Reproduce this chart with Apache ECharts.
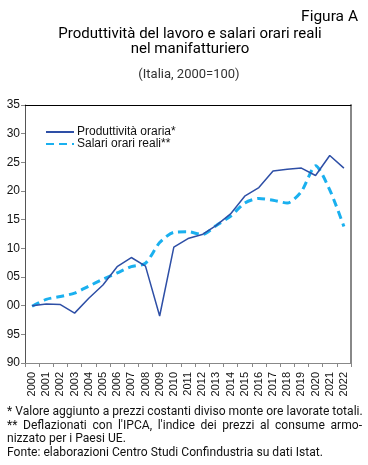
<!DOCTYPE html>
<html><head><meta charset="utf-8">
<script src="https://cdn.jsdelivr.net/npm/echarts@6/dist/echarts.min.js"></script>
<style>html,body{margin:0;padding:0;background:#fff}#c{width:368px;height:465px}</style>
</head><body><div id="c"></div>
<script>
const years = ['2000','2001','2002','2003','2004','2005','2006','2007','2008','2009','2010','2011','2012','2013','2014','2015','2016','2017','2018','2019','2020','2021','2022'];
const produttivita = [100, 100.3, 100.2, 98.7, 101.3, 103.6, 106.8, 108.4, 106.9, 98.2, 110.2, 111.7, 112.4, 114.0, 116.0, 119.1, 120.6, 123.5, 123.8, 124.0, 122.7, 126.2, 124.0];
const salari = [99.9, 101.1, 101.6, 102.2, 103.4, 104.6, 105.7, 106.8, 107.4, 111.0, 112.8, 112.9, 112.4, 114.0, 115.6, 117.9, 118.7, 118.4, 117.9, 119.9, 124.4, 120.2, 113.8];
const seriesNames = ['Produttività oraria*', 'Salari orari reali**'];
const yTicks = {min: 90, max: 135, interval: 5};
const notes = [
  '* Valore aggiunto a prezzi costanti diviso monte ore lavorate totali.',
  "** Deflazionati con l'IPCA, l'indice dei prezzi al consume armo-",
  'nizzato per i Paesi UE.',
  'Fonte: elaborazioni Centro Studi Confindustria su dati Istat.'
];
const font = 'Roboto, "Liberation Sans", sans-serif';
const noteSize = 12.1;
const noteLeft = 7, noteRight = 362;

// build footnote graphics; line 2 is justified across the full width
const ctx = document.createElement('canvas').getContext('2d');
ctx.font = noteSize + 'px Roboto';
const noteGraphics = [];
notes.forEach((t, i) => {
  const top = 406 + i * 13.5;
  if (i === 1) {
    const words = t.split(' ');
    const widths = words.map(w => ctx.measureText(w).width);
    const total = widths.reduce((a, b) => a + b, 0);
    const gap = (noteRight - noteLeft - total) / (words.length - 1);
    let x = noteLeft;
    words.forEach((w, k) => {
      noteGraphics.push({type: 'text', left: x, top: top, style: {text: w, fontFamily: font, fontSize: noteSize, fill: '#111'}});
      x += widths[k] + gap;
    });
  } else {
    noteGraphics.push({type: 'text', left: noteLeft, top: top, style: {text: t, fontFamily: font, fontSize: noteSize, fill: '#111'}});
  }
});

const chart = echarts.init(document.getElementById('c'), null, {renderer: 'canvas'});
chart.setOption({
  animation: false,
  backgroundColor: '#fff',
  title: [
    {text: 'Figura A', right: 5, top: 4, textStyle: {fontFamily: font, fontSize: 15.5, fontWeight: 'normal', color: '#000'}},
    {text: 'Produttività del lavoro e salari orari reali\nnel manifatturiero', left: 185, textAlign: 'center', top: 21,
     textStyle: {fontFamily: font, fontSize: 15, fontWeight: 'normal', color: '#000', lineHeight: 15.5}},
    {text: '(Italia, 2000=100)', left: 184, textAlign: 'center', top: 63, textStyle: {fontFamily: font, fontSize: 13, fontWeight: 'normal', color: '#333'}}
  ],
  legend: {
    orient: 'vertical', left: 40, top: 121, itemWidth: 28, itemHeight: 8, itemGap: 0, padding: 5,
    itemStyle: {opacity: 0},
    textStyle: {fontFamily: '"Liberation Sans", Arial, sans-serif', fontSize: 12, color: '#111', lineHeight: 12, padding: [0,0,0,-2]},
    data: seriesNames
  },
  grid: {left: 25, right: 17, top: 105, bottom: 102, containLabel: false},
  xAxis: [{
    type: 'category', data: years, boundaryGap: true,
    axisLine: {lineStyle: {color: '#888', width: 1}},
    axisTick: {show: true, length: 4, lineStyle: {color: '#888'}},
    axisLabel: {rotate: 90, fontSize: 11, color: '#111', fontFamily: '"Liberation Sans", Arial, sans-serif', margin: 9, interval: 0}
  }, {
    type: 'category', data: years, position: 'top',
    axisLine: {lineStyle: {color: '#000', width: 1}}, axisTick: {show: false}, axisLabel: {show: false}
  }],
  yAxis: [{
    type: 'value', min: yTicks.min, max: yTicks.max, interval: yTicks.interval,
    splitLine: {show: false},
    axisLine: {show: true, lineStyle: {color: '#555', width: 1}},
    axisTick: {show: true, length: 4, lineStyle: {color: '#888'}},
    axisLabel: {fontSize: 12, color: '#111', fontFamily: '"Liberation Sans", Arial, sans-serif', margin: 5,
      formatter: v => String(v % 100).padStart(2, '0')}
  }, {
    type: 'value', min: yTicks.min, max: yTicks.max, position: 'right',
    splitLine: {show: false}, axisTick: {show: false}, axisLabel: {show: false},
    axisLine: {show: true, lineStyle: {color: '#888', width: 2}}
  }],
  series: [{
    name: seriesNames[0], type: 'line', data: produttivita, symbol: 'none',
    lineStyle: {color: '#2E4FA6', width: 1.5}, itemStyle: {color: '#2E4FA6'}, z: 3
  }, {
    name: seriesNames[1], type: 'line', data: salari, symbol: 'none', smooth: 0.25,
    lineStyle: {color: '#1AB0EF', width: 3, type: [8, 5]}, itemStyle: {color: '#1AB0EF'}, z: 2
  }],
  graphic: noteGraphics
});
</script></body></html>
